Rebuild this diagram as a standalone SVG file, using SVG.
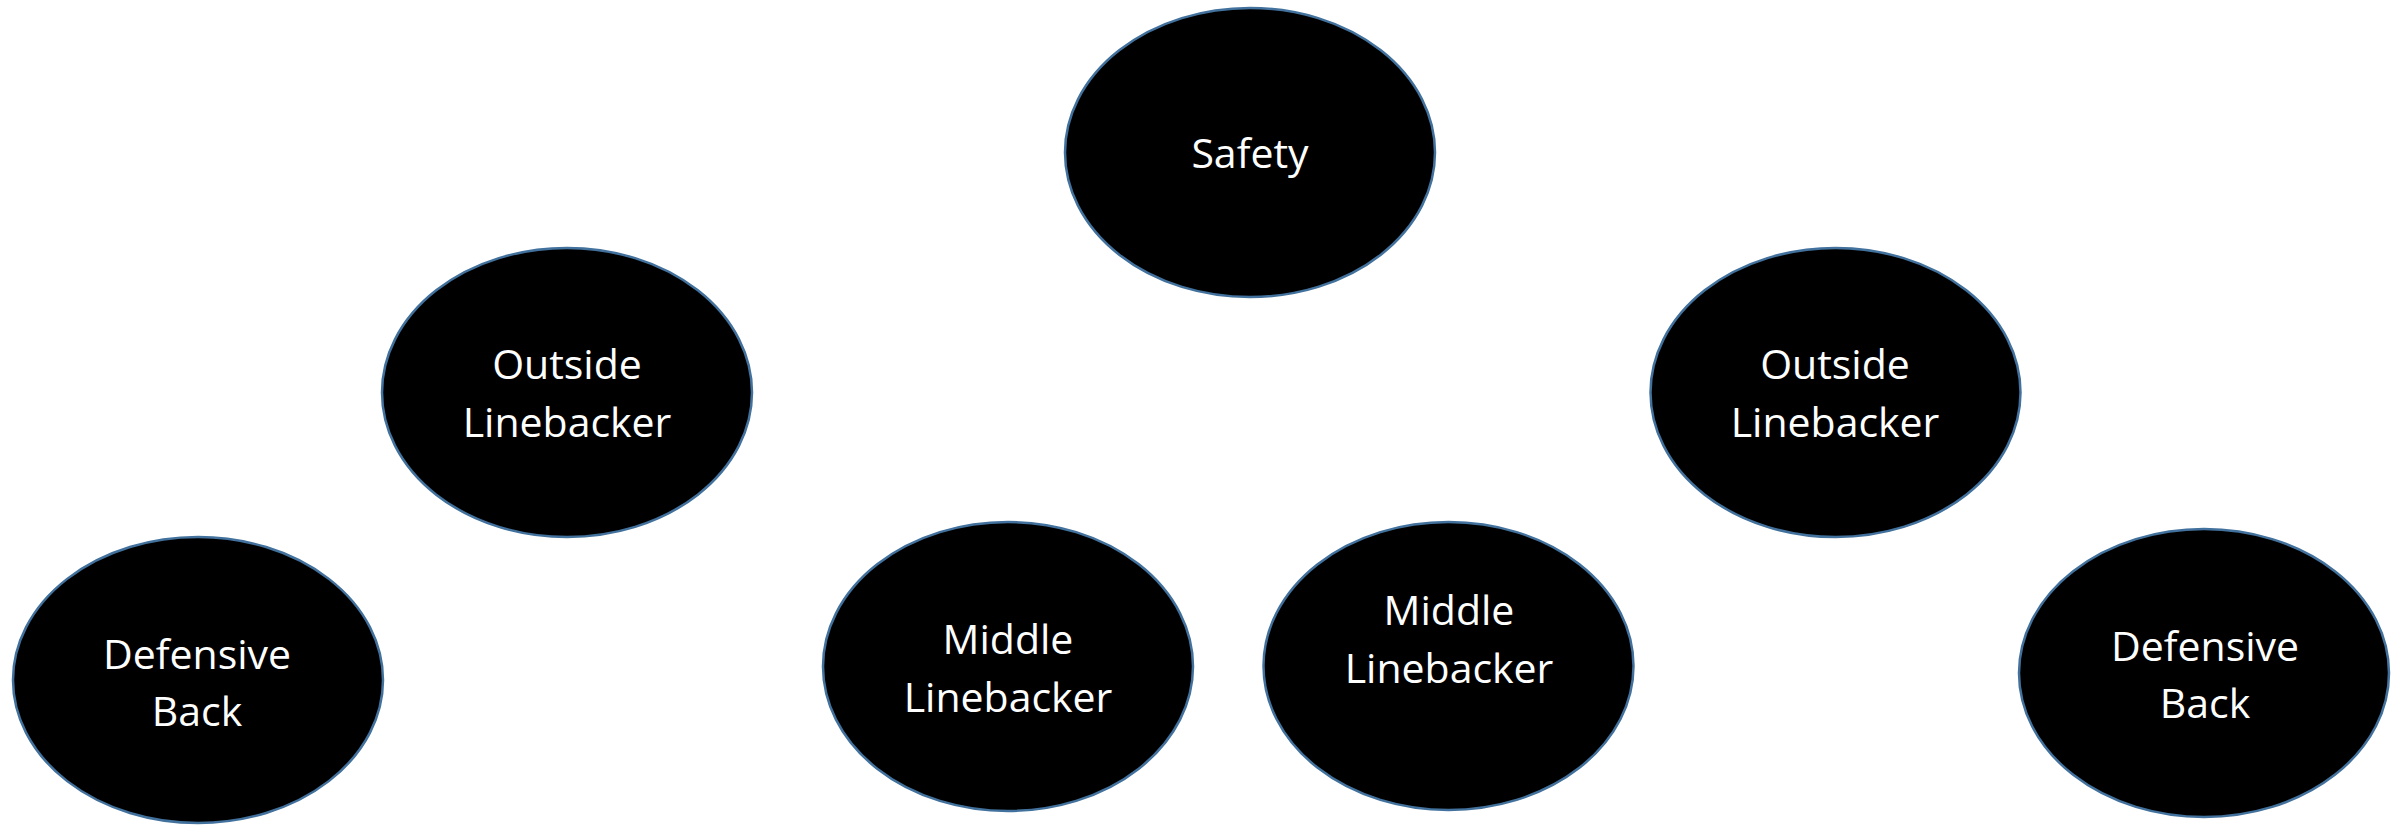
<svg xmlns="http://www.w3.org/2000/svg" width="2402" height="825" viewBox="0 0 2402 825">
<style>
.node ellipse{fill:#000;stroke:#41719C;stroke-width:2.5}
.node text{fill:#fff;font-family:"Open Sans","Liberation Sans",sans-serif;font-size:41px;text-anchor:middle}
</style>
<rect width="2402" height="825" fill="#fff"/>
<g id="connectors"></g>
<g id="safety" class="node">
<ellipse cx="1250" cy="152.5" rx="185" ry="144.5"/>
<text x="1250" y="168">Safety</text>
</g>
<g id="olb-left" class="node">
<ellipse cx="567" cy="392.5" rx="185" ry="144.5"/>
<text x="567" y="379">Outside</text>
<text x="567" y="437">Linebacker</text>
</g>
<g id="olb-right" class="node">
<ellipse cx="1835.5" cy="392.5" rx="185" ry="144.5"/>
<text x="1835" y="379">Outside</text>
<text x="1835" y="437">Linebacker</text>
</g>
<g id="db-left" class="node">
<ellipse cx="198" cy="680" rx="185" ry="143"/>
<text x="197" y="669">Defensive</text>
<text x="197" y="726">Back</text>
</g>
<g id="mlb-left" class="node">
<ellipse cx="1008" cy="666.5" rx="185" ry="144.5"/>
<text x="1008" y="654">Middle</text>
<text x="1008" y="712">Linebacker</text>
</g>
<g id="mlb-right" class="node">
<ellipse cx="1448.5" cy="666" rx="185" ry="144"/>
<text x="1449" y="625">Middle</text>
<text x="1449" y="683">Linebacker</text>
</g>
<g id="db-right" class="node">
<ellipse cx="2204" cy="673" rx="185" ry="144"/>
<text x="2205" y="661">Defensive</text>
<text x="2205" y="718">Back</text>
</g>
</svg>
